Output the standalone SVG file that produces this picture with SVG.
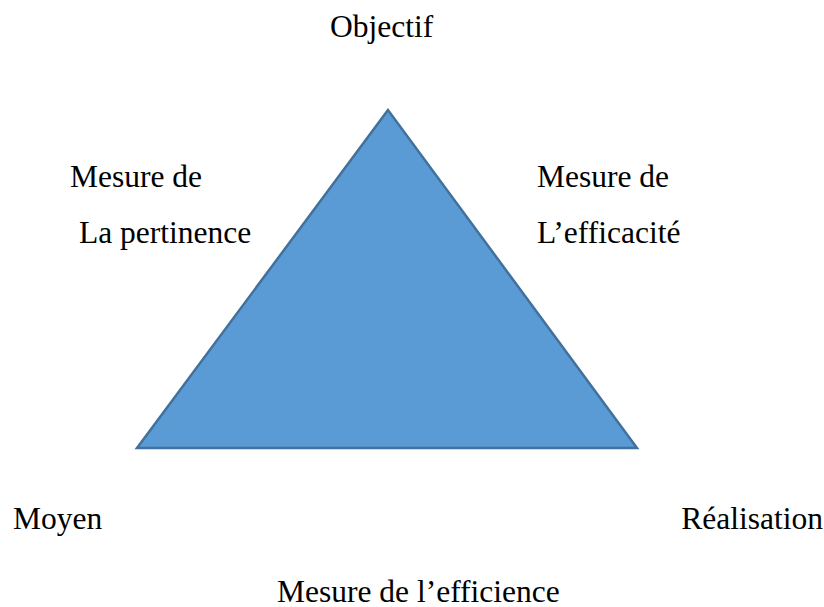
<svg xmlns="http://www.w3.org/2000/svg" width="824" height="607" viewBox="0 0 824 607">
<style>
text{font-family:"Liberation Serif","Times New Roman",serif;font-size:31.5px;fill:#000}
.tri{fill:#5B9BD5;stroke:#41719C;stroke-width:2.5}
</style>
<rect width="824" height="607" fill="#fff"/>
<g id="triangle"><polygon class="tri" points="388,110 137,448 637,448"/></g>
<g id="objectif"><text x="330" y="37">Objectif</text></g>
<g id="pertinence"><text x="70" y="187">Mesure de</text><text x="79" y="243">La pertinence</text></g>
<g id="efficacite"><text x="537" y="187">Mesure de</text><text x="537" y="243">L’efficacité</text></g>
<g id="moyen"><text x="13" y="529">Moyen</text></g>
<g id="realisation"><text x="823" y="529" text-anchor="end">Réalisation</text></g>
<g id="efficience"><text x="277" y="602">Mesure de l’efficience</text></g>
<g id="connectors"></g>
</svg>
